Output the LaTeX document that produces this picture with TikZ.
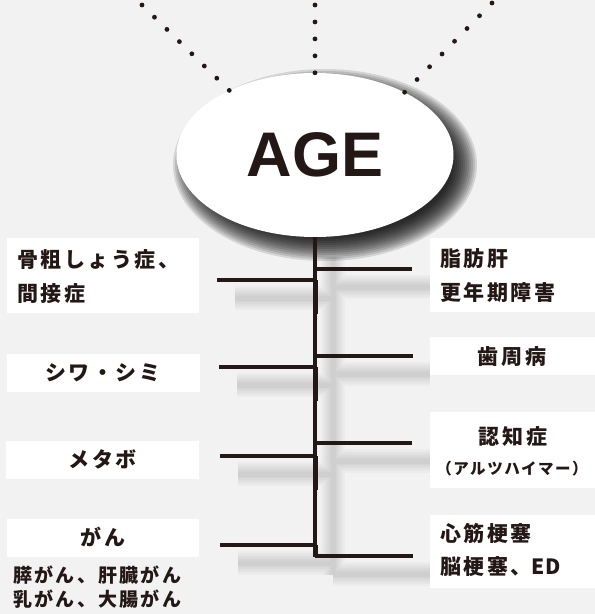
\documentclass[tikz,border=0pt]{standalone}
\usepackage{fontspec}
\setmainfont{Liberation Sans}
\newfontfamily\jp{Noto Sans CJK JP}
\usetikzlibrary{shapes.geometric,calc}
\definecolor{ink}{HTML}{231815}
\definecolor{bg}{HTML}{F2F2F2}
\tikzset{
  box/.style={fill=white, draw=none, inner sep=0pt, anchor=north west},
  jbig/.style={font=\jp\bfseries\fontsize{21}{25}\selectfont\addfontfeature{LetterSpace=12}, text=ink, inner sep=0pt},
  jmid/.style={font=\jp\bfseries\fontsize{19}{23}\selectfont\addfontfeature{LetterSpace=12}, text=ink, inner sep=0pt},
  jsml/.style={font=\jp\bfseries\fontsize{15.5}{18}\selectfont\addfontfeature{LetterSpace=10}, text=ink, inner sep=0pt},
  branch/.style={line width=3.3pt, draw=ink},
  dotc/.style={fill=ink},
}
\begin{document}
\begin{tikzpicture}[x=1pt,y=-1pt]
\fill[bg] (0,0) rectangle (595,614);
\useasboundingbox (0,0) rectangle (595,614);

% blurred shadow of the tree
\foreach \w in {24pt,20pt,16pt,12pt,8pt,5pt}{
  \draw[line width=\w, black, opacity=0.024]
    (333,257) -- (333,575)
    (235,298) -- (333,298) (237,385) -- (333,385)
    (238,474) -- (333,474) (238,563) -- (333,563)
    (333,287) -- (430,287) (333,374) -- (430,374)
    (333,461) -- (430,461) (333,574) -- (430,574);
}

% shadow of the ellipse
\foreach \i in {0,...,12}
  \fill[black, opacity=0.12] (325,165) ellipse [x radius={128+2*\i}, y radius={72+2*\i}];

% AGE ellipse
\node[ellipse, fill=white, minimum width=277pt, minimum height=164pt, inner sep=0pt,
      font=\fontsize{63}{63}\selectfont\bfseries, text=ink] (age) at (315,155) {AGE};

% dotted rays
\coordinate (d1) at (142,5);
\coordinate (d2) at (315,5);
\coordinate (d3) at (492,3);
\foreach \k in {0,...,7} \fill[dotc] ($(age.143.7)!\k/7!(d1)$) circle (2.4);
\foreach \k in {0,...,4} \fill[dotc] ($(age.north)!\k/4!(d2)$) circle (2.4);
\foreach \k in {0,...,7} \fill[dotc] ($(age.35.5)!\k/7!(d3)$) circle (2.4);

% trunk and branches
\coordinate (tb) at (315,557);
\coordinate (tl1) at (315,280); \coordinate (el1) at (217,280);
\coordinate (tl2) at (315,367); \coordinate (el2) at (219,367);
\coordinate (tl3) at (315,456); \coordinate (el3) at (220,456);
\coordinate (tl4) at (315,545); \coordinate (el4) at (220,545);
\coordinate (tr1) at (315,269); \coordinate (er1) at (412,269);
\coordinate (tr2) at (315,356); \coordinate (er2) at (413,356);
\coordinate (tr3) at (315,443); \coordinate (er3) at (412,443);
\coordinate (tr4) at (315,556); \coordinate (er4) at (413,556);
\draw[branch] (age.south) -- (tb);
\foreach \n/\j in {1/34pt,2/34pt,3/34pt,4/12pt} {
  \draw[branch] (tl\n) -- (el\n);
  \draw[branch] (tr\n) -- (er\n);
  \draw[branch] ([xshift=1.6pt]tl\n) -- ([xshift=1.6pt,yshift=-\j]tl\n);
}

% boxes
\node[box, minimum width=192pt, minimum height=75pt] (lb1) at (7,238) {};
\node[box, minimum width=193pt, minimum height=38pt] (lb2) at (7,354) {};
\node[box, minimum width=193pt, minimum height=38pt] (lb3) at (6,441) {};
\node[box, minimum width=192pt, minimum height=38pt] (lb4) at (7,519) {};
\node[box, minimum width=165pt, minimum height=74pt] (rb1) at (430,238) {};
\node[box, minimum width=165pt, minimum height=38pt] (rb2) at (430,337) {};
\node[box, minimum width=165pt, minimum height=76pt] (rb3) at (430,412) {};
\node[box, minimum width=165pt, minimum height=73pt] (rb4) at (430,515) {};

% texts
\node[jbig, anchor=west] (t1a) at (17,260) {骨粗しょう症、};
\node[jbig, anchor=west] (t1b) at (17,294) {間接症};
\node[jbig] (t2) at (103,373) {シワ・シミ};
\node[jbig] (t3) at (103,459) {メタボ};
\node[jbig] (t4) at (103,537) {がん};
\node[jmid, anchor=west] (t5a) at (13,575) {膵がん、肝臓がん};
\node[jmid, anchor=west] (t5b) at (13,599) {乳がん、大腸がん};
\node[jbig, anchor=west] (r1a) at (440,259) {脂肪肝};
\node[jbig, anchor=west] (r1b) at (440,293) {更年期障害};
\node[jbig] (r2) at (512,357) {歯周病};
\node[jbig] (r3a) at (513,437) {認知症};
\node[jsml] (r3b) at (512,469) {（アルツハイマー）};
\node[jbig, anchor=west] (r4a) at (440,533) {心筋梗塞};
\node[jbig, anchor=west] (r4b) at (440,567) {脳梗塞、{\addfontfeature{LetterSpace=2}ED}};
\end{tikzpicture}
\end{document}
